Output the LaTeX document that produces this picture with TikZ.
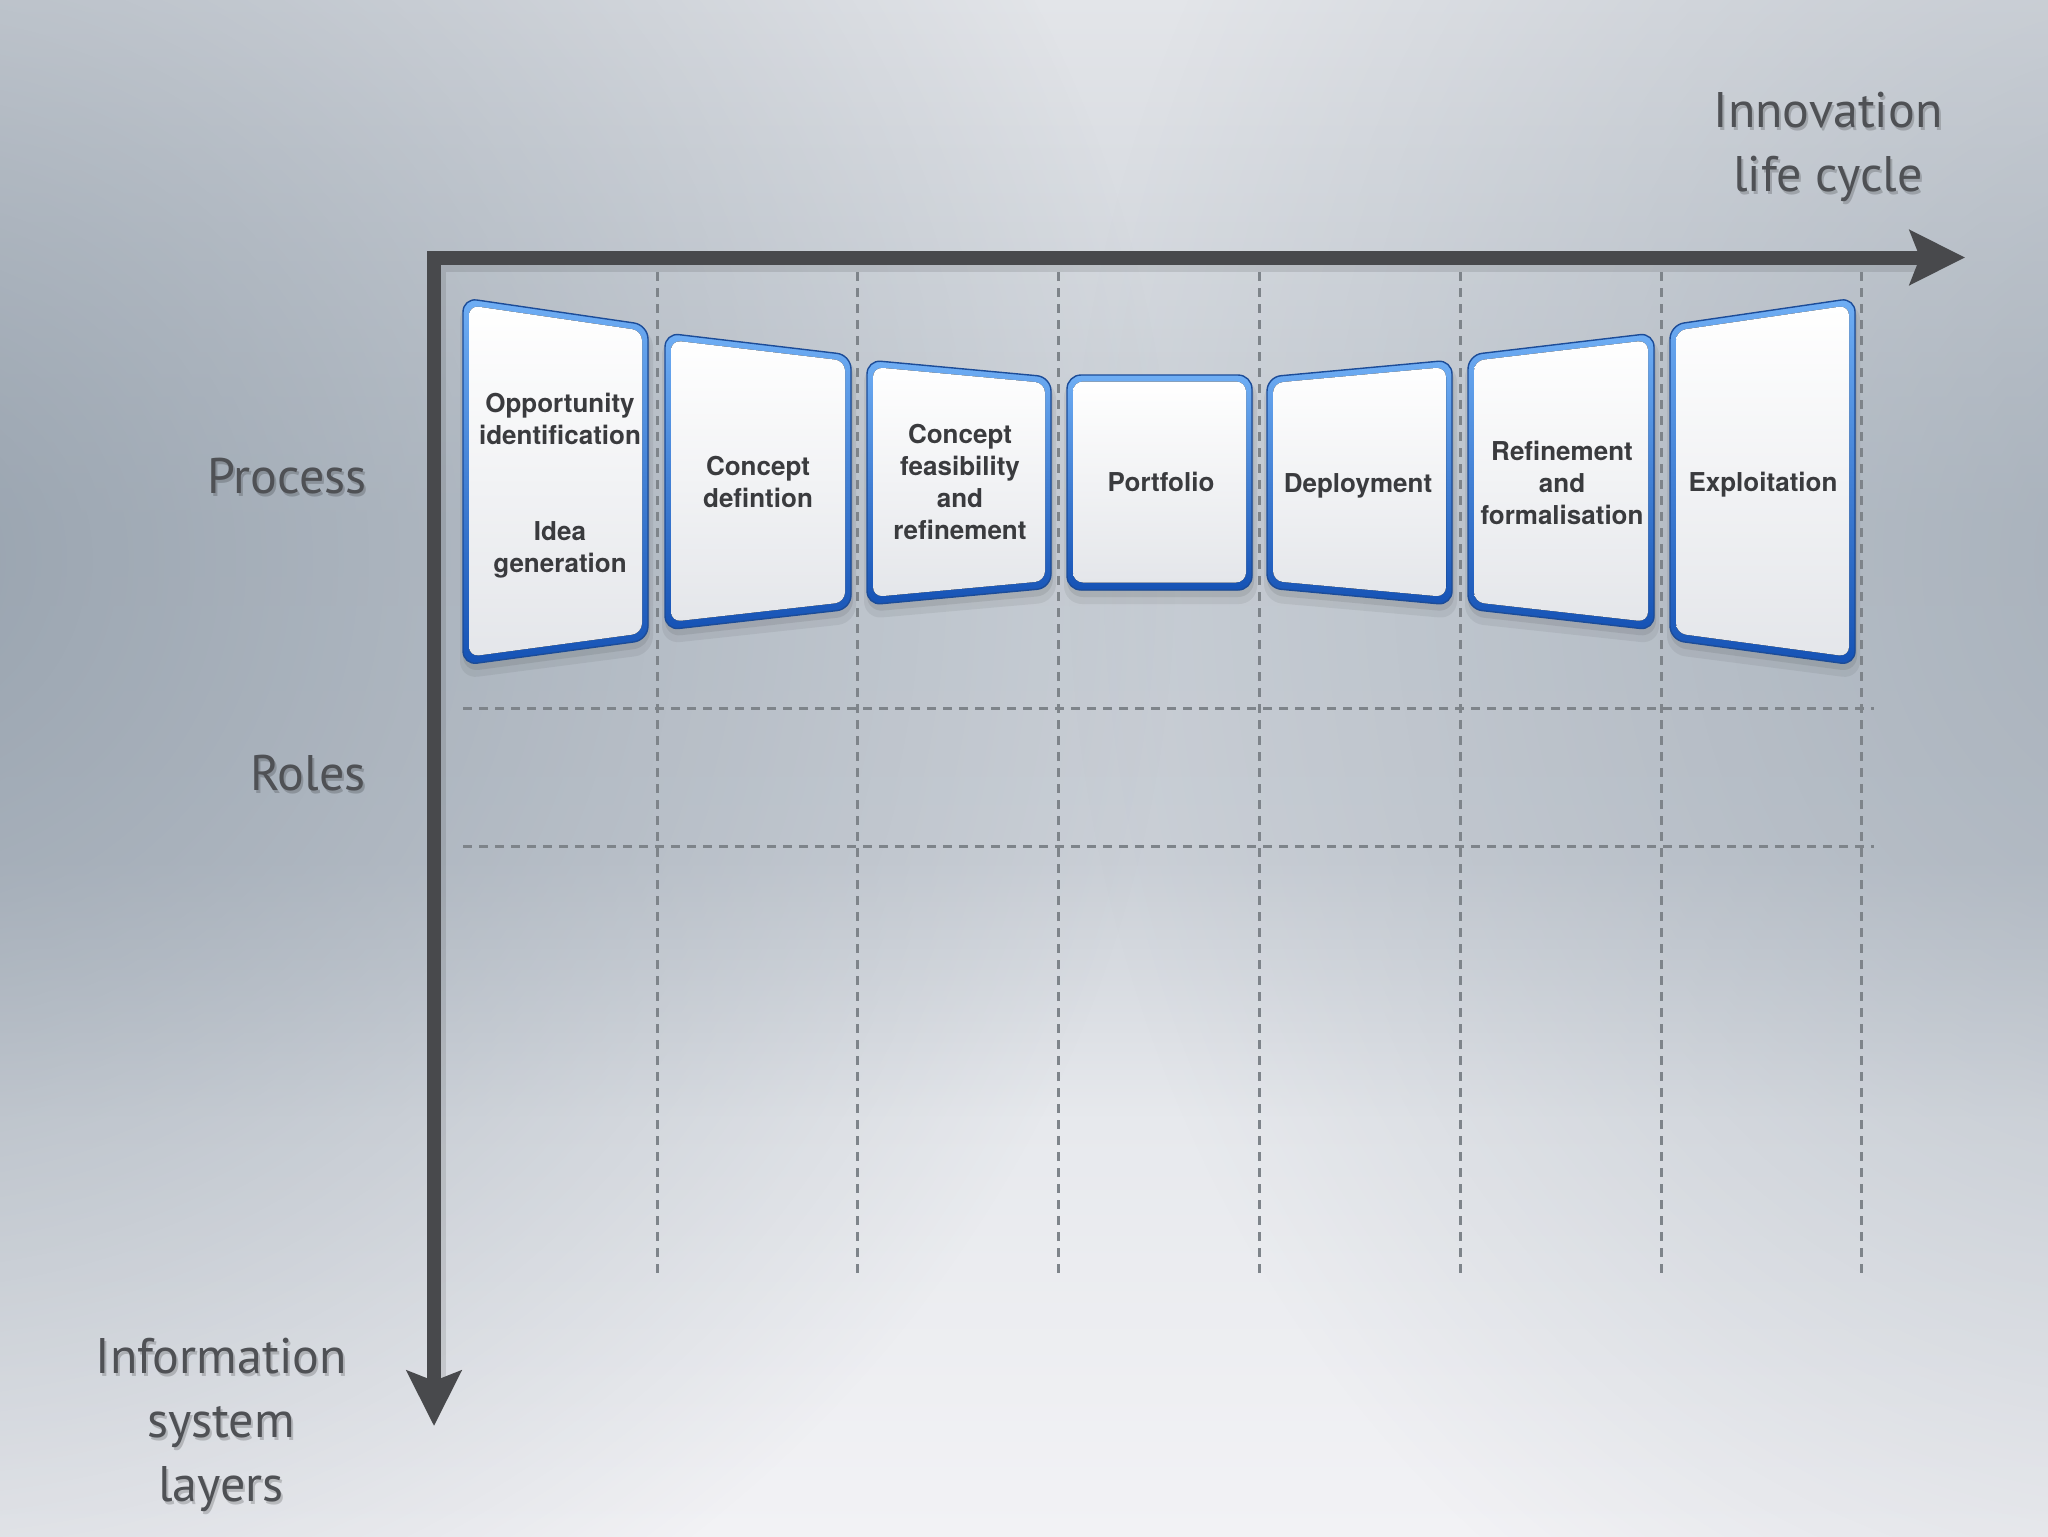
\documentclass[tikz,border=0pt]{standalone}
\usepackage{fontspec}
\setmainfont{TeX Gyre Heros}
\newfontfamily\labelfont{PT Sans}
\usetikzlibrary{arrows.meta,fadings,calc}

\definecolor{axiscol}{HTML}{48494C}
\definecolor{gridcol}{HTML}{7E848A}
\definecolor{rimtop}{HTML}{6FAEF4}
\definecolor{rimbot}{HTML}{1552B5}
\definecolor{rimline}{HTML}{1C4C98}
\definecolor{cardbot}{HTML}{E4E6EA}
\definecolor{cardtxt}{HTML}{3A3B3E}
\definecolor{labtxt}{HTML}{4F5155}
\definecolor{bgA}{HTML}{E3E5E9}
\definecolor{bgB}{HTML}{C8CED5}
\definecolor{bgC}{HTML}{CBD0D7}
\definecolor{bgD}{HTML}{E7E9ED}
\definecolor{bgE}{HTML}{F2F2F5}
\definecolor{bgedge}{HTML}{8C98A5}

\tikzfading[name=glowfade, inner color=transparent!0, outer color=transparent!100]

\newcommand\drawcard[6]{%
  \pgfmathsetmacro\cLi{#1+6}%
  \pgfmathsetmacro\cRi{#2-6}%
  \pgfmathsetmacro\cst{(#4-#3)/(#2-#1)}%
  \pgfmathsetmacro\tLi{#3+\cst*6+6.5}%
  \pgfmathsetmacro\tRi{#4-\cst*6+6.5}%
  \pgfmathsetmacro\csb{(#6-#5)/(#2-#1)}%
  \pgfmathsetmacro\bLi{#5+\csb*6-7.5}%
  \pgfmathsetmacro\bRi{#6-\csb*6-7.5}%
  \fill[black,opacity=0.06,rounded corners=9pt] (#1-3,#3+4) -- (#2+5,#4+4) -- (#2+5,#6+14) -- (#1-3,#5+14) -- cycle;
  \fill[black,opacity=0.08,rounded corners=8pt] (#1,#3+4) -- (#2+2,#4+4) -- (#2+2,#6+7) -- (#1,#5+7) -- cycle;
  \fill[rounded corners=7pt, top color=rimtop, bottom color=rimbot] (#1,#3) -- (#2,#4) -- (#2,#6) -- (#1,#5) -- cycle;
  \draw[rimline, line width=0.7pt, rounded corners=7pt] (#1,#3) -- (#2,#4) -- (#2,#6) -- (#1,#5) -- cycle;
  \fill[rounded corners=5pt, top color=white, bottom color=cardbot] (\cLi,\tLi) -- (\cRi,\tRi) -- (\cRi,\bRi) -- (\cLi,\bLi) -- cycle;
}

\tikzset{
  axisline/.style={draw=axiscol, line width=7pt, line join=miter,
    {Stealth[length=27.5pt, width=27pt, inset=5pt]}-{Stealth[length=27.5pt, width=27pt, inset=5pt]}},
  griddash/.style={draw=gridcol, line width=1.5pt, dash pattern=on 4.5pt off 3.5pt},
  cardtext/.style={font=\fontsize{13}{16}\selectfont\bfseries, text=cardtxt, align=center, inner sep=0pt},
  labeltext/.style={font=\labelfont\fontsize{25}{32}\selectfont, text=labtxt, align=center, inner sep=0pt},
  labelshadow/.style={labeltext, text=black, text opacity=0.18}
}

\begin{document}
\begin{tikzpicture}[x=0.5pt,y=-0.5pt]
\useasboundingbox (0,0) rectangle (2048,1536);

% background
\fill[top color=bgA, bottom color=bgB] (0,0) rectangle (2048,521);
\fill[top color=bgB, bottom color=bgC] (0,520) rectangle (2048,861);
\fill[top color=bgC, bottom color=bgD] (0,860) rectangle (2048,1121);
\fill[top color=bgD, bottom color=bgE] (0,1120) rectangle (2048,1536);
\begin{scope}
\clip (0,0) rectangle (2048,1536);
\fill[bgedge, path fading=glowfade, fill opacity=0.8] (-120,560) ellipse [x radius=1300, y radius=1250];
\fill[bgedge, path fading=glowfade, fill opacity=0.55] (2170,560) ellipse [x radius=1100, y radius=1250];
\end{scope}

% grid
\foreach \i in {0,...,6} {
  \draw[griddash] ({657+200.8*\i},272) -- ({657+200.8*\i},1280);
}
\draw[griddash] (463,708) -- (1874,708);
\draw[griddash] (463,846) -- (1874,846);

% axes
\coordinate (O) at (434,257.5);
\coordinate (X) at (1965,257.5);
\coordinate (Y) at (434,1426);
\draw[black, opacity=0.10, line width=9pt, line join=miter] ($(Y)+(3,-40)$) -- ($(O)+(3,5)$) -- ($(X)+(-40,5)$);
\draw[axisline] (Y) -- (O) -- (X);

% cards
\drawcard{463}{648}{298}{325}{665}{640}
\drawcard{665}{851}{333}{355}{630}{609}
\drawcard{867}{1051}{360}{377}{605}{588}
\drawcard{1067}{1252}{375}{375}{590}{590}
\drawcard{1267}{1452}{377}{360}{588}{605}
\drawcard{1468}{1654}{355}{333}{609}{630}
\drawcard{1670}{1855}{325}{298}{640}{665}

\node[cardtext] (c1) at (560,485.6) {\strut Opportunity\\\strut identification\\\strut\\\strut\\\strut Idea\\\strut generation};
\node[cardtext] (c2) at (758,484.6) {\strut Concept\\\strut defintion};
\node[cardtext] (c3) at (960,484.6) {\strut Concept\\\strut feasibility\\\strut and\\\strut refinement};
\node[cardtext] (c4) at (1161,484.6) {\strut Portfolio};
\node[cardtext] (c5) at (1358,485.6) {\strut Deployment};
\node[cardtext] (c6) at (1562,485.6) {\strut Refinement\\\strut and\\\strut formalisation};
\node[cardtext] (c7) at (1763,484.6) {\strut Exploitation};

% labels
\node[labelshadow] (innovsh) at (1830,149.2) {\strut Innovation\\\strut life cycle};
\node[labeltext] (innov) at (1828,146.2) {\strut Innovation\\\strut life cycle};
\node[labelshadow, anchor=east] (procsh) at (369,483.2) {\strut Process};
\node[labeltext, anchor=east] (proc) at (367,480.2) {\strut Process};
\node[labelshadow, anchor=east] (rolesh) at (368,780.2) {\strut Roles};
\node[labeltext, anchor=east] (roles) at (366,777.2) {\strut Roles};
\node[labelshadow] (infosh) at (223,1427.2) {\strut Information\\\strut system\\\strut layers};
\node[labeltext] (info) at (221,1424.2) {\strut Information\\\strut system\\\strut layers};
\end{tikzpicture}
\end{document}
